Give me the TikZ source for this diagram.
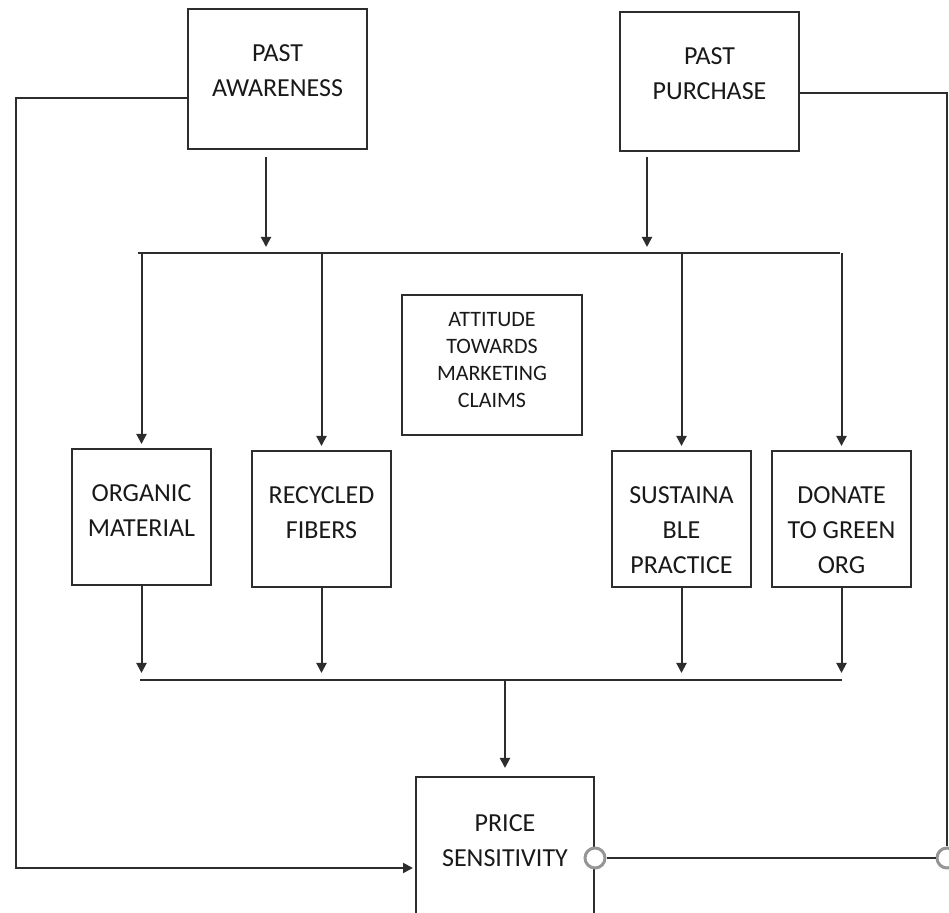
\documentclass[tikz,border=0pt]{standalone}
\usepackage{fontspec}
\setmainfont{Carlito}
\usetikzlibrary{arrows.meta,positioning}

\definecolor{linegray}{RGB}{45,45,45}
\definecolor{portgray}{RGB}{150,150,150}
\definecolor{textgray}{RGB}{25,25,25}

\begin{document}
\begin{tikzpicture}[x=0.5pt, y=-0.5pt, >={Triangle[length=5pt,width=5pt]},
    box/.style={draw=linegray, line width=1pt, inner sep=0pt, minimum width=89.5pt, minimum height=70pt},
    factor/.style={box, minimum width=69.5pt, minimum height=68pt},
    txt/.style={font=\fontsize{13}{17.5}\selectfont, text=textgray, align=center, inner sep=0pt},
    wire/.style={draw=linegray, line width=1pt},
    arr/.style={wire, ->},
    port/.style={circle, draw=portgray, line width=1.5pt, fill=white, minimum size=10pt, inner sep=0pt}]
    \useasboundingbox (0,0) rectangle (949,913);
    \clip (0,0) rectangle (949,913);

    % Antecedents
    \node[box] (aware) at (277.5,79) {};
    \node[txt, below=18pt of aware.north] (aware txt) {PAST\\AWARENESS};
    \node[box, minimum height=69.5pt] (purchase) at (709.5,81.5) {};
    \node[txt, below=18pt of purchase.north] (purchase txt) {PAST\\PURCHASE};

    % Attitude towards marketing claims
    \node[box, minimum width=90pt] (attitude) at (492,365) {};
    \node[txt, font=\fontsize{11}{13.5}\selectfont, below=9pt of attitude.north] (attitude txt)
        {ATTITUDE\\TOWARDS\\MARKETING\\CLAIMS};

    % Claim types
    \node[factor] (organic) at (141.5,517) {};
    \node[txt, below=18pt of organic.north] (organic txt) {ORGANIC\\MATERIAL};
    \node[factor] (recycled) at (321.5,519) {};
    \node[txt, below=18pt of recycled.north] (recycled txt) {RECYCLED\\FIBERS};
    \node[factor] (sustain) at (681.5,519) {};
    \node[txt, below=18pt of sustain.north] (sustain txt) {SUSTAINA\\BLE\\PRACTICE};
    \node[factor] (donate) at (841.5,519) {};
    \node[txt, below=18pt of donate.north] (donate txt) {DONATE\\TO GREEN\\ORG};

    % Outcome
    \node[box, minimum width=89pt] (price) at (505,847) {};
    \node[txt, below=19pt of price.north] (price txt) {PRICE\\SENSITIVITY};

    % Bars and free ends
    \coordinate (top left) at (138,253);
    \coordinate (top right) at (840,253);
    \coordinate (bottom left) at (140,680);
    \coordinate (bottom right) at (842,680);
    \coordinate (aware out) at (266,157);
    \coordinate (purchase out) at (647,157);
    \coordinate (left corner) at (16,868);

    \draw[wire] (top left) -- (top right);
    \draw[arr, shorten >=3pt] (aware out) -- (aware out |- top left);
    \draw[arr, shorten >=3pt] (purchase out) -- (purchase out |- top left);
    \foreach \f in {organic, recycled, sustain, donate} {
        \draw[arr, shorten >=2pt] (\f.north |- top left) -- (\f.north);
        \draw[arr, shorten >=3.5pt] (\f.south) -- (\f.south |- bottom left);
    }
    \draw[wire] (bottom left) -- (bottom right);
    \draw[arr, shorten >=4pt] (price.north |- bottom left) -- (price.north);

    % Direct paths
    \draw[arr, shorten >=1pt] ([yshift=-9.5pt]aware.west) -| (left corner) -- ([yshift=-10.5pt]price.west);
    \node[port] (price port) at ([yshift=-5.5pt]price.east) {};
    \node[port] (right port) at (947,858) {};
    \draw[wire] ([yshift=-5.75pt]purchase.east) -| (right port);
    \draw[wire] (price port) -- (right port);
\end{tikzpicture}
\end{document}
